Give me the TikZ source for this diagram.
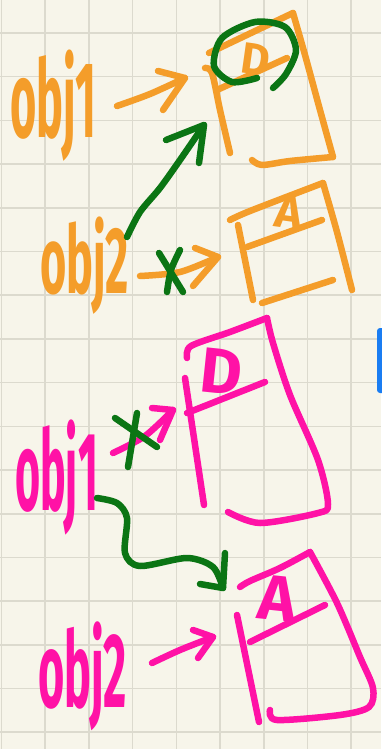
\documentclass[tikz,border=0pt]{standalone}
\usepackage{fontspec}
\setmainfont{Fira Sans}
\definecolor{paper}{HTML}{F7F5EA}
\definecolor{gridc}{HTML}{DCDACE}
\definecolor{orng}{HTML}{F49D2A}
\definecolor{pnk}{HTML}{FF12A6}
\definecolor{grn}{HTML}{0B7514}
\definecolor{blu}{HTML}{1A7DF2}
\tikzset{
  pen/.style={line width=6.5pt, line cap=round, line join=round},
  tx/.style={inner sep=0pt, anchor=base west, font=\bfseries},
}
\begin{document}
\begin{tikzpicture}[x=1pt,y=-1pt]
\useasboundingbox (0,0) rectangle (381,749);
\fill[paper] (0,0) rectangle (381,749);
\foreach \k in {0,...,8} \draw[gridc, line width=1.6pt] ({1.5+43.7*\k},0) -- ({1.5+43.7*\k},749);
\foreach \k in {0,...,16} \draw[gridc, line width=1.6pt] (0,{33+43.7*\k}) -- (381,{33+43.7*\k});
\fill[blu, rounded corners=3pt] (377,328) rectangle (386,393);

% ---------- orange top ----------
\node[tx, text=orng] (oa) at (10,137) {\fontsize{45}{45}\selectfont\scalebox{1}[2.4]{obj1}};
\node[tx, text=orng] (ob) at (40,293) {\fontsize{45}{45}\selectfont\scalebox{1}[2.1]{obj2}};
\node[inner sep=0pt, text=orng, font=\bfseries\fontsize{44}{44}\selectfont, rotate=-8] (od) at (256,59) {D};
\node[inner sep=0pt, text=orng, font=\bfseries\fontsize{46}{46}\selectfont, rotate=-8] (oA) at (289,213) {A};

% box 1
\draw[pen, orng] plot[smooth] coordinates {(205,68) (212,73) (220,110) (230,153)};
\draw[pen, orng] (209,53) -- (293,13);
\draw[pen, orng] plot[smooth] coordinates {(293,13) (305,55) (320,110) (333,157)};
\draw[pen, orng] plot[smooth] coordinates {(333,157) (290,161) (262,165) (252,160)};
\draw[pen, orng] (217,90) -- (287,58);
% box 2
\draw[pen, orng] plot[smooth] coordinates {(230,220) (250,211) (323,183)};
\draw[pen, orng] (238,225) -- (253,300);
\draw[pen, orng] plot[smooth] coordinates {(323,183) (337,232) (352,290)};
\draw[pen, orng] (262,303) -- (333,280);
\draw[pen, orng] (247,247) -- (322,220);
% arrow obj1 -> box1
\coordinate (a1s) at (117,106); \coordinate (a1e) at (185,78);
\draw[pen, orng] plot[smooth] coordinates {(a1s) (150,94) (a1e)};
\draw[pen, orng] (158,71) -- (a1e) -- (163,110);
% arrow obj2 -> box2
\coordinate (a2s) at (140,276); \coordinate (a2e) at (218,257);
\draw[pen, orng] plot[smooth] coordinates {(a2s) (180,272) (a2e)};
\draw[pen, orng] (195,248) -- (a2e) -- (193,286);
% green
\draw[pen, grn] (159,253) -- (183,292);
\draw[pen, grn] plot[smooth] coordinates {(180,250) (171,270) (167,292)};
\draw[pen, grn] plot[smooth] coordinates {(257,78) (232,82) (214,66) (222,38) (255,22) (285,27) (296,50) (286,74) (273,88)};
\coordinate (g1s) at (127,237); \coordinate (g1e) at (204,125);
\draw[pen, grn] plot[smooth] coordinates {(g1s) (140,212) (160,188) (180,160) (g1e)};
\draw[pen, grn] (166,140) -- (g1e) -- (199,163);

% ---------- pink bottom ----------
\node[tx, text=pnk] (pa) at (15,510) {\fontsize{43}{43}\selectfont\scalebox{1}[2.6]{obj1}};
\node[tx, text=pnk] (pb) at (38,707) {\fontsize{45}{45}\selectfont\scalebox{1}[2.35]{obj2}};
\node[inner sep=0pt, text=pnk, font=\bfseries\fontsize{64}{64}\selectfont, rotate=-6] (pd) at (222,372) {D};
\node[inner sep=0pt, text=pnk, font=\bfseries\fontsize{64}{64}\selectfont, rotate=-6] (pA) at (278,598) {A};

% box D
\draw[pen, pnk] plot[smooth] coordinates {(187,358) (191,346) (230,332) (267,318)};
\draw[pen, pnk] plot[smooth] coordinates {(267,318) (273,343) (290,395) (318,460) (328,504) (318,513) (260,523) (228,512)};
\draw[pen, pnk] (185,378) -- (204,505);
\draw[pen, pnk] (187,413) -- (265,382);
% box A
\draw[pen, pnk] plot[smooth] coordinates {(240,587) (250,581) (280,568) (310,552)};
\draw[pen, pnk] plot[smooth] coordinates {(310,552) (337,603) (360,657) (373,688) (369,707) (340,715) (277,720) (270,710)};
\draw[pen, pnk] (237,615) -- (259,722);
\draw[pen, pnk] (250,642) -- (325,605);
% arrows
\coordinate (p1s) at (113,453); \coordinate (p1e) at (173,410);
\draw[pen, pnk] plot[smooth] coordinates {(p1s) (145,436) (p1e)};
\draw[pen, pnk] (152,408) -- (p1e) -- (160,440);
\coordinate (p2s) at (152,663); \coordinate (p2e) at (213,637);
\draw[pen, pnk] plot[smooth] coordinates {(p2s) (180,650) (p2e)};
\draw[pen, pnk] (193,630) -- (p2e) -- (198,658);
% green
\draw[pen, grn] (115,418) -- (157,447);
\draw[pen, grn] (137,413) -- (128,467);
\coordinate (g2s) at (97,498); \coordinate (g2e) at (223,588);
\draw[pen, grn] plot[smooth] coordinates {(g2s) (117,503) (127,518) (125,553) (140,566) (187,558) (213,567) (g2e)};
\draw[pen, grn] (225,553) -- (g2e) -- (200,584);
\end{tikzpicture}
\end{document}
